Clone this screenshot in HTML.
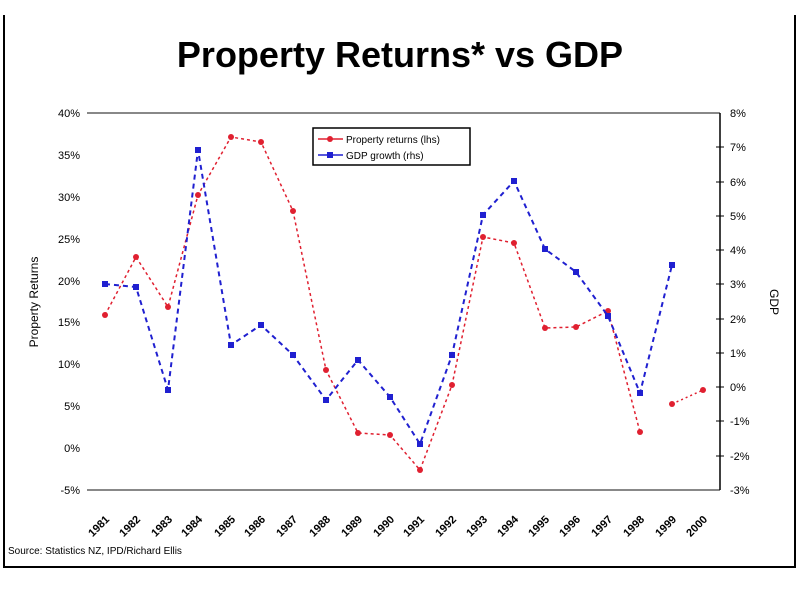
<!DOCTYPE html>
<html><head><style>body{margin:0;background:#fff;}svg text{font-family:"Liberation Sans",sans-serif;}</style></head><body>
<svg width="800" height="587" xmlns="http://www.w3.org/2000/svg">
<polyline points="4,15 4,567 795,567 795,15" fill="none" stroke="#000" stroke-width="2"/>
<text x="400" y="67" font-size="36" font-weight="bold" text-anchor="middle">Property Returns* vs GDP</text>
<line x1="87" y1="113" x2="720" y2="113" stroke="#888" stroke-width="2"/>
<line x1="87" y1="490" x2="720" y2="490" stroke="#888" stroke-width="2"/>
<line x1="720" y1="113" x2="720" y2="490" stroke="#000" stroke-width="1.5"/>
<g font-size="11" text-anchor="end">
<text x="80" y="117">40%</text><text x="80" y="159">35%</text><text x="80" y="201">30%</text><text x="80" y="243">25%</text><text x="80" y="285">20%</text><text x="80" y="326">15%</text><text x="80" y="368">10%</text><text x="80" y="410">5%</text><text x="80" y="452">0%</text><text x="80" y="494">-5%</text>
</g>
<g font-size="11">
<text x="730" y="117">8%</text><text x="730" y="151">7%</text><text x="730" y="186">6%</text><text x="730" y="220">5%</text><text x="730" y="254">4%</text><text x="730" y="288">3%</text><text x="730" y="323">2%</text><text x="730" y="357">1%</text><text x="730" y="391">0%</text><text x="730" y="425">-1%</text><text x="730" y="460">-2%</text><text x="730" y="494">-3%</text>
</g>
<g stroke="#000"><line x1="716" y1="147" x2="724" y2="147"/><line x1="716" y1="182" x2="724" y2="182"/><line x1="716" y1="216" x2="724" y2="216"/><line x1="716" y1="250" x2="724" y2="250"/><line x1="716" y1="284" x2="724" y2="284"/><line x1="716" y1="319" x2="724" y2="319"/><line x1="716" y1="353" x2="724" y2="353"/><line x1="716" y1="387" x2="724" y2="387"/><line x1="716" y1="421" x2="724" y2="421"/><line x1="716" y1="456" x2="724" y2="456"/></g>
<text transform="translate(38,302) rotate(-90)" font-size="12" text-anchor="middle">Property Returns</text>
<text transform="translate(770,302) rotate(90)" font-size="12" text-anchor="middle">GDP</text>
<g font-size="11" font-weight="bold">
<text transform="translate(110,520) rotate(-45)" text-anchor="end">1981</text>
<text transform="translate(141,520) rotate(-45)" text-anchor="end">1982</text>
<text transform="translate(173,520) rotate(-45)" text-anchor="end">1983</text>
<text transform="translate(203,520) rotate(-45)" text-anchor="end">1984</text>
<text transform="translate(236,520) rotate(-45)" text-anchor="end">1985</text>
<text transform="translate(266,520) rotate(-45)" text-anchor="end">1986</text>
<text transform="translate(298,520) rotate(-45)" text-anchor="end">1987</text>
<text transform="translate(331,520) rotate(-45)" text-anchor="end">1988</text>
<text transform="translate(363,520) rotate(-45)" text-anchor="end">1989</text>
<text transform="translate(395,520) rotate(-45)" text-anchor="end">1990</text>
<text transform="translate(425,520) rotate(-45)" text-anchor="end">1991</text>
<text transform="translate(457,520) rotate(-45)" text-anchor="end">1992</text>
<text transform="translate(488,520) rotate(-45)" text-anchor="end">1993</text>
<text transform="translate(519,520) rotate(-45)" text-anchor="end">1994</text>
<text transform="translate(550,520) rotate(-45)" text-anchor="end">1995</text>
<text transform="translate(581,520) rotate(-45)" text-anchor="end">1996</text>
<text transform="translate(613,520) rotate(-45)" text-anchor="end">1997</text>
<text transform="translate(645,520) rotate(-45)" text-anchor="end">1998</text>
<text transform="translate(677,520) rotate(-45)" text-anchor="end">1999</text>
<text transform="translate(708,520) rotate(-45)" text-anchor="end">2000</text>
</g>
<text x="8" y="554" font-size="10">Source: Statistics NZ, IPD/Richard Ellis</text>
<polyline fill="none" stroke="#e02030" stroke-width="1.5" stroke-dasharray="3,3" points="105,315 136,257 168,307 198,195 231,137 261,142 293,211 326,370 358,433 390,435 420,470 452,385 483,237 514,243 545,328 576,327 608,311 640,432"/>
<polyline fill="none" stroke="#e02030" stroke-width="1.5" stroke-dasharray="2,3" points="672,404 703,390"/>
<g fill="#e02030"><circle cx="105" cy="315" r="3"/><circle cx="136" cy="257" r="3"/><circle cx="168" cy="307" r="3"/><circle cx="198" cy="195" r="3"/><circle cx="231" cy="137" r="3"/><circle cx="261" cy="142" r="3"/><circle cx="293" cy="211" r="3"/><circle cx="326" cy="370" r="3"/><circle cx="358" cy="433" r="3"/><circle cx="390" cy="435" r="3"/><circle cx="420" cy="470" r="3"/><circle cx="452" cy="385" r="3"/><circle cx="483" cy="237" r="3"/><circle cx="514" cy="243" r="3"/><circle cx="545" cy="328" r="3"/><circle cx="576" cy="327" r="3"/><circle cx="608" cy="311" r="3"/><circle cx="640" cy="432" r="3"/><circle cx="672" cy="404" r="3"/><circle cx="703" cy="390" r="3"/></g>
<polyline fill="none" stroke="#2020d0" stroke-width="2" stroke-dasharray="5,4" points="105,284 136,287 168,390 198,150 231,345 261,325 293,355 326,400 358,360 390,397 420,444 452,355 483,215 514,181 545,249 576,272 608,316 640,393 672,265"/>
<g fill="#2020d0"><rect x="102" y="281" width="6" height="6"/><rect x="133" y="284" width="6" height="6"/><rect x="165" y="387" width="6" height="6"/><rect x="195" y="147" width="6" height="6"/><rect x="228" y="342" width="6" height="6"/><rect x="258" y="322" width="6" height="6"/><rect x="290" y="352" width="6" height="6"/><rect x="323" y="397" width="6" height="6"/><rect x="355" y="357" width="6" height="6"/><rect x="387" y="394" width="6" height="6"/><rect x="417" y="441" width="6" height="6"/><rect x="449" y="352" width="6" height="6"/><rect x="480" y="212" width="6" height="6"/><rect x="511" y="178" width="6" height="6"/><rect x="542" y="246" width="6" height="6"/><rect x="573" y="269" width="6" height="6"/><rect x="605" y="313" width="6" height="6"/><rect x="637" y="390" width="6" height="6"/><rect x="669" y="262" width="6" height="6"/></g>
<rect x="313" y="128" width="157" height="37" fill="#fff" stroke="#000" stroke-width="1.5"/>
<line x1="318" y1="139" x2="343" y2="139" stroke="#e02030" stroke-width="1.5"/><circle cx="330" cy="139" r="3" fill="#e02030"/>
<line x1="318" y1="155" x2="343" y2="155" stroke="#2020d0" stroke-width="1.5"/><rect x="327" y="152" width="6" height="6" fill="#2020d0"/>
<text x="346" y="143" font-size="10">Property returns (lhs)</text>
<text x="346" y="159" font-size="10">GDP growth (rhs)</text>
</svg>
</body></html>
